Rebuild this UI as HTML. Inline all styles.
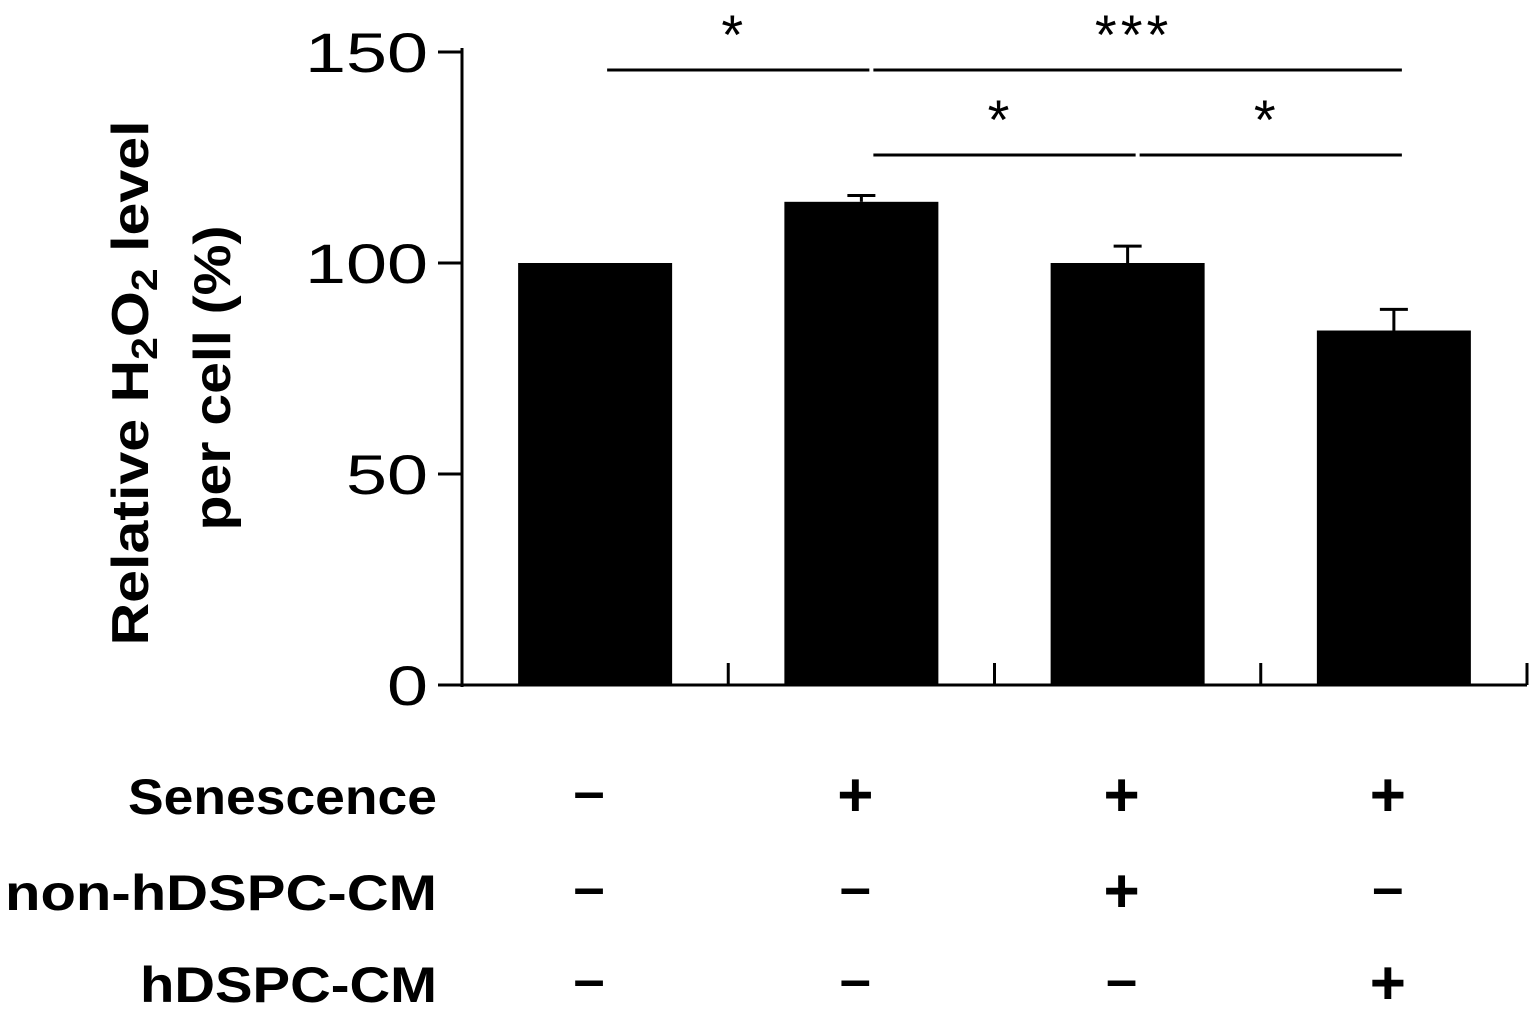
<!DOCTYPE html>
<html><head><meta charset="utf-8"><style>
html,body{margin:0;padding:0;background:#fff;}
svg{display:block;font-family:"Liberation Sans","DejaVu Sans",sans-serif;}
</style></head><body>
<svg id="chart" width="1536" height="1018" viewBox="0 0 1536 1018">
<g id="axes"></g>
<g id="bars"></g>
<g id="sig"></g>
<g font-weight="bold" font-size="52" text-anchor="middle">
<text transform="translate(148,383) rotate(-90)" textLength="525" lengthAdjust="spacingAndGlyphs">Relative H<tspan font-size="36" dy="9">2</tspan><tspan dy="-9">O</tspan><tspan font-size="36" dy="9">2</tspan><tspan dy="-9"> level</tspan></text>
<text transform="translate(230,378) rotate(-90)" textLength="305" lengthAdjust="spacingAndGlyphs">per cell (%)</text>
</g>
<g id="table"></g>
</svg>
<script>
const categories=["Control","Senescence","Sen+non-hDSPC-CM","Sen+hDSPC-CM"];
const values=[100,114.5,100,84];
const errors=[0,1.5,4,5];
const yTicks=[0,50,100,150];
const rowLabels=["Senescence","non-hDSPC-CM","hDSPC-CM"];
const senescence=["-","+","+","+"];
const nonCM=["-","-","+","-"];
const hCM=["-","-","-","+"];
const sigPairs=[[0,1,"*",0],[1,3,"***",0],[1,2,"*",1],[2,3,"*",1]];

const NS="http://www.w3.org/2000/svg";
const x0=462,x1=1527,y0=685,ppu=4.22;
const y=v=>y0-v*ppu;
const slot=(x1-x0)/categories.length;
const cx=i=>x0+slot*(i+0.5);
const bw=154;
const labelW=[309,432,297];
function mk(tag,attrs,parent,text){const e=document.createElementNS(NS,tag);for(const k in attrs)e.setAttribute(k,attrs[k]);if(text!==undefined)e.textContent=text;parent.appendChild(e);return e;}
const axes=document.getElementById('axes');
let e=mk('line',{x1:x0,y1:y(150)-4,x2:x0,y2:y0+2,stroke:'#000','stroke-width':3},axes);

e=mk('line',{x1:x0-2,y1:y0,x2:x1,y2:y0,stroke:'#000','stroke-width':3},axes);

yTicks.forEach(t=>{
  e=mk('line',{x1:x0-24,y1:y(t),x2:x0,y2:y(t),stroke:'#000','stroke-width':3},axes);
  
  const s=String(t);
  e=mk('text',{x:428,y:y(t)+20,'font-size':56,'text-anchor':'end',textLength:s.length*41,lengthAdjust:'spacingAndGlyphs'},axes,s);
  
});
for(let i=1;i<=categories.length;i++){
  e=mk('line',{x1:x0+slot*i,y1:y0-22,x2:x0+slot*i,y2:y0,stroke:'#000','stroke-width':3},axes);
  
}
const bars=document.getElementById('bars');
values.forEach((v,i)=>{
  e=mk('rect',{x:cx(i)-bw/2,y:y(v),width:bw,height:y0-y(v),fill:'#000'},bars);
  
  if(errors[i]>0){
    const g=mk('g',{},bars);
    
    mk('line',{x1:cx(i),y1:y(v),x2:cx(i),y2:y(v+errors[i]),stroke:'#000','stroke-width':3},g);
    mk('line',{x1:cx(i)-14,y1:y(v+errors[i]),x2:cx(i)+14,y2:y(v+errors[i]),stroke:'#000','stroke-width':3},g);
  }
});
const sig=document.getElementById('sig');
sigPairs.forEach(p=>{
  const ly=p[3]===0?70:155;
  const a=cx(p[0])+12, b=cx(p[1])+8;
  const g=mk('g',{},sig);
  
  mk('line',{x1:a,y1:ly,x2:b,y2:ly,stroke:'#000','stroke-width':3},g);
  mk('text',{x:(a+b)/2-4,y:ly-16,'font-size':56,'text-anchor':'middle','letter-spacing':4},g,p[2]);
});
const table=document.getElementById('table');
const rows=[senescence,nonCM,hCM];const rowY=[814,910,1002];
rowLabels.forEach((l,r)=>{
  e=mk('text',{x:437,y:rowY[r],'font-size':50,'font-weight':'bold','text-anchor':'end',textLength:labelW[r],lengthAdjust:'spacingAndGlyphs'},table,l);
  
  rows[r].forEach((s,i)=>{
    e=mk('text',{x:cx(i)-6,y:rowY[r]+(s==='+'?2:-4),'font-size':s==='+'?62:56,'font-weight':'bold','text-anchor':'middle'},table,s==='-'?'–':'+');
    
  });
});
</script>
</body></html>
